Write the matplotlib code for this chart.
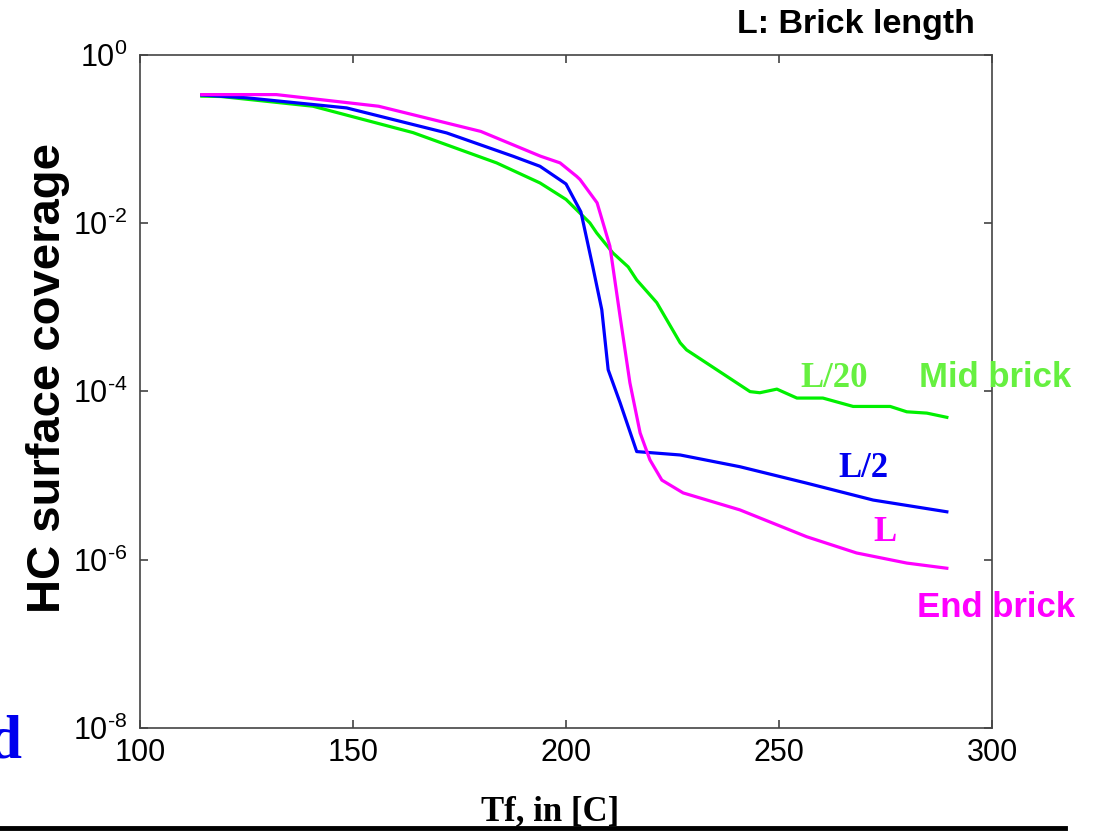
import numpy as np
import matplotlib
matplotlib.use('Agg')
import matplotlib.pyplot as plt
from matplotlib.ticker import NullLocator

plt.rcParams['font.family'] = ['Liberation Sans', 'DejaVu Sans']
plt.rcParams['mathtext.fontset'] = 'custom'
plt.rcParams['mathtext.rm'] = 'Liberation Sans'
plt.rcParams['mathtext.it'] = 'Liberation Sans:italic'
plt.rcParams['mathtext.bf'] = 'Liberation Sans:bold'
plt.rcParams['axes.unicode_minus'] = False

# HC surface coverage vs Tf, three positions along the brick
# L/20 (mid brick, green)
tf_l20 = [114.5, 119, 140.6, 164.1, 183.7, 193.9, 200, 205.6, 207.2, 211, 214.6, 216.6,
          221.3, 226.8, 228.3, 243.2, 245.5, 249.5, 254.2, 260.3, 267.4, 276.1, 280, 284.7, 289.4]
hc_l20 = [0.32, 0.317, 0.243, 0.118, 0.0516, 0.0298, 0.019, 0.010, 7.6e-3, 4.4e-3, 3.0e-3, 2.1e-3,
          1.13e-3, 3.76e-4, 3.1e-4, 9.9e-5, 9.6e-5, 1.06e-4, 8.3e-5, 8.3e-5, 6.6e-5, 6.6e-5, 5.7e-5, 5.5e-5, 4.9e-5]
# L/2 (blue)
tf_l2 = [114.5, 125, 148.5, 172, 187.6, 193.9, 200, 203.5, 206.3, 208.4, 209.9, 212.7,
         216.6, 226.8, 240.8, 256.5, 272.1, 289.4]
hc_l2 = [0.33, 0.306, 0.232, 0.117, 0.0618, 0.047, 0.029, 0.0135, 3.0e-3, 9.3e-4, 1.8e-4, 7.3e-5,
         1.92e-5, 1.75e-5, 1.27e-5, 8.1e-6, 5.1e-6, 3.7e-6]
# L (end brick, magenta)
tf_l = [114.5, 132, 156, 180, 194, 198.6, 202.5, 203.3, 207.3, 210.3, 212.7, 215, 217.4,
        219.7, 222.5, 227.5, 240.8, 256.5, 268.2, 280, 289.4]
hc_l = [0.334, 0.334, 0.243, 0.122, 0.062, 0.0516, 0.0357, 0.0327, 0.0173, 5.3e-3, 7.7e-4, 1.26e-4, 3.2e-5,
        1.53e-5, 8.8e-6, 6.2e-6, 3.9e-6, 1.87e-6, 1.2e-6, 9.1e-7, 7.9e-7]

xticks = [100, 150, 200, 250, 300]
yticks = [1e-8, 1e-6, 1e-4, 1e-2, 1e0]
ytick_labels = [r'$10^{\text{-}8}$', r'$10^{\text{-}6}$', r'$10^{\text{-}4}$', r'$10^{\text{-}2}$', '$10^{0}$']

W, H = 1099, 833
fig = plt.figure(figsize=(W / 100, H / 100), dpi=100)
ax = fig.add_axes([140 / W, 1 - 728 / H, 852 / W, 673.5 / H])

ax.plot(tf_l20, hc_l20, color='#00f000', lw=2.3)
ax.plot(tf_l2, hc_l2, color='#0000ff', lw=2.3)
ax.plot(tf_l, hc_l, color='#ff00ff', lw=2.3)

ax.set_yscale('log')
ax.set_xlim(100, 300)
ax.set_ylim(1e-8, 1e0)
ax.set_xticks(xticks)
ax.set_xticklabels([str(t) for t in xticks])
ax.set_yticks(yticks)
ax.set_yticklabels(ytick_labels)
ax.yaxis.set_minor_locator(NullLocator())
ax.tick_params(direction='in', length=6, width=1.1, color='#333333',
               top=True, right=True, labelsize=22, pad=7)
ax.tick_params(axis='y', pad=9)
for s in ax.spines.values():
    s.set_color('#444444')
    s.set_linewidth(1.2)

ax.set_ylabel('HC surface coverage', fontsize=34, fontweight='bold')
ax.yaxis.set_label_coords(-70 / 852, 0.52)

# annotations (pixel positions -> figure fraction)
def ftext(px, py, s, **kw):
    fig.text(px / W, 1 - py / H, s, va='baseline', **kw)

ftext(737, 33, 'L: Brick length', fontsize=24.5, fontweight='bold', color='black')
ftext(800, 387, 'L/20', fontsize=25, fontweight='bold', color='#66f040', family='Liberation Serif')
ftext(919, 387, 'Mid brick', fontsize=25, fontweight='bold', color='#66f040')
ftext(838, 477, 'L/2', fontsize=25, fontweight='bold', color='#0000ee', family='Liberation Serif')
ftext(873, 541, 'L', fontsize=25, fontweight='bold', color='#ff00ff', family='Liberation Serif')
ftext(917, 617, 'End brick', fontsize=25, fontweight='bold', color='#ff00ff')
ftext(550, 820, 'Tf, in [C]', fontsize=25, fontweight='bold', color='black',
      family='Liberation Serif', ha='center')
# slide text partly off the left edge, as in the original
ftext(22, 757, 'd', fontsize=44, fontweight='bold', color='#0000ee',
      family='Liberation Serif', ha='right')

# black rule at the bottom of the slide
fig.add_artist(plt.Line2D([0, 1065 / W], [1 - 828 / H, 1 - 828 / H], color='black', lw=3.5))

fig.savefig('out.png', dpi=100)
